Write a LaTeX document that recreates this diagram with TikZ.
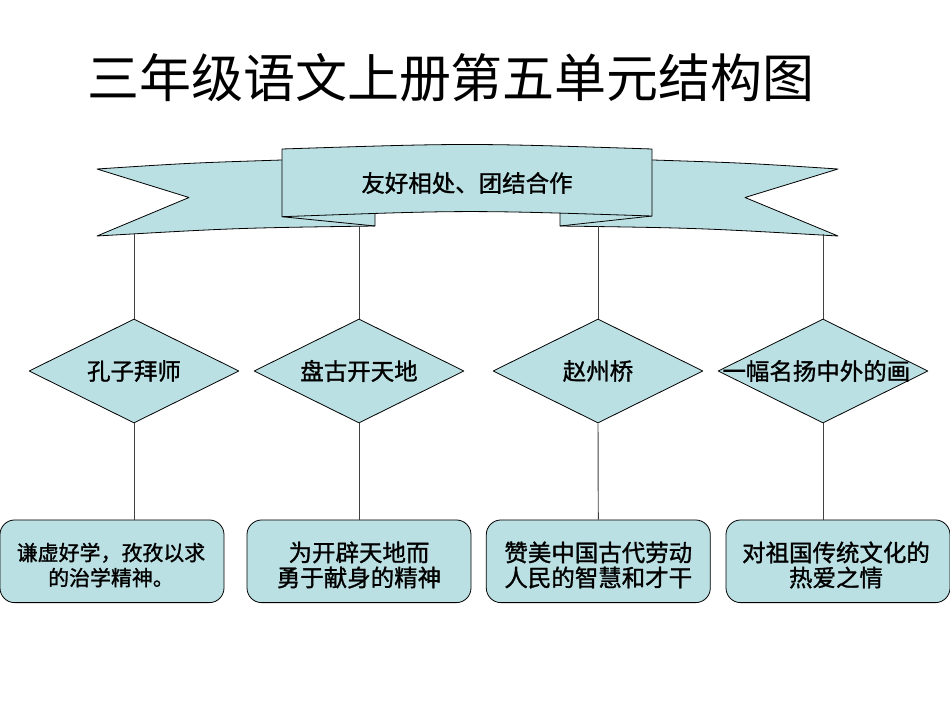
\documentclass[tikz,border=0pt]{standalone}
\usepackage{fontspec}
\newfontfamily\cjk{Noto Sans CJK SC}
\newfontfamily\cjkb[FakeBold=1.2]{Noto Sans CJK SC}
\usetikzlibrary{shapes.geometric}
\definecolor{bandcyan}{RGB}{187,224,227}
\tikzset{
  dia/.style={diamond,draw=black,fill=bandcyan,line width=0.6pt,inner sep=0pt,minimum width=157.5pt,minimum height=78pt},
  box/.style={rectangle,rounded corners=11pt,draw=black,fill=bandcyan,line width=0.6pt,minimum width=168pt,minimum height=62pt},
  boxtext/.style={align=center,font=\cjkb\fontsize{17.6}{18.8}\selectfont},
  link/.style={draw=black!75,line width=0.7pt}
}
\begin{document}
\begin{tikzpicture}[x=0.75pt,y=-0.75pt,font=\cjkb\fontsize{17.6}{21}\selectfont, line join=round]
		%	\draw[color=gray!50,dashed] (0,0) grid[step=50] (950,713);
		\useasboundingbox (0,0) rectangle (950,713);
		\node (title) at (451,78) {\cjk\fontsize{39}{47}\selectfont 三年级语文上册第五单元结构图};
		% ribbon
		\filldraw[fill=bandcyan,line width=0.6pt] (97,169) .. controls (189.5,163) .. (282,160) -- (375,158) -- (375,226) .. controls (236,228) .. (97,236) -- (189,197.5) -- cycle;
		\filldraw[fill=bandcyan,line width=0.6pt] (838,169) .. controls (745.5,163) .. (653,160) -- (560,158) -- (560,226) .. controls (699,228) .. (838,236) -- (745,197.5) -- cycle;
		\draw[line width=0.6pt] (282,216.7) -- (375,226);
		\draw[line width=0.6pt] (652,216) -- (560,226);
		\filldraw[fill=bandcyan,line width=0.6pt] (282,149) .. controls (467,143) .. (652,149) -- (652,216) .. controls (467,210) .. (282,216.7) -- cycle;
		\node (theme) at (467,183) {友好相处、团结合作};
		\coordinate (r1) at (134,234.5);
		\coordinate (r2) at (359,226.2);
		\coordinate (r3) at (598,226.2);
		\coordinate (r4) at (823,234.5);
		% lessons
		\node[dia,label={center:孔子拜师}] (d1) at (134,371) {};
		\node[dia,label={center:盘古开天地}] (d2) at (359,371) {};
		\node[dia,label={center:赵州桥}] (d3) at (598,371) {};
		\node[dia,label={[xshift=-5pt]center:一幅名扬中外的画}] (d4) at (823,371) {};
		% themes
		\node[box] (b1) at (112,561.3) {};
		\node[box] (b2) at (359,561.3) {};
		\node[box] (b3) at (598.3,561.3) {};
		\node[box] (b4) at (838,561.3) {};
		\node[boxtext,font=\cjkb\fontsize{15.7}{18.8}\selectfont] (t1) at (111,565) {谦虚好学，孜孜以求\\的治学精神。};
		\node[boxtext] (t2) at (359,565) {为开辟天地而\\勇于献身的精神};
		\node[boxtext] (t3) at (598.3,565) {赞美中国古代劳动\\人民的智慧和才干};
		\node[boxtext] (t4) at (836,565) {对祖国传统文化的\\热爱之情};
		\draw[link] (r1) -- (d1.north);
		\draw[link] (r2) -- (d2.north);
		\draw[link] (r3) -- (d3.north);
		\draw[link] (r4) -- (d4.north);
		\draw[link] (d1.south) -- (d1.south |- b1.north);
		\draw[link] (d2.south) -- (b2.north);
		\draw[link] (d3.south) -- (b3.north);
		\draw[link] (d4.south) -- (d4.south |- b4.north);
\end{tikzpicture}
\end{document}
